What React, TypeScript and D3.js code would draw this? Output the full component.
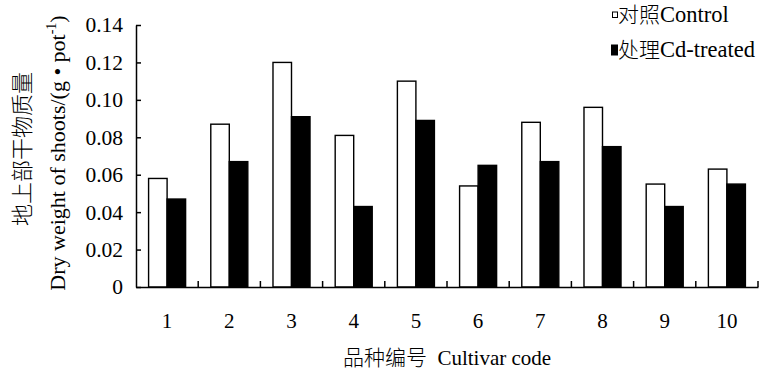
import React, { useEffect, useRef } from 'react'
import { select, scaleBand, scaleLinear, axisLeft, axisBottom } from 'd3'

const categories = ['1', '2', '3', '4', '5', '6', '7', '8', '9', '10']
const controlValues = [0.058, 0.087, 0.120, 0.081, 0.110, 0.054, 0.088, 0.096, 0.055, 0.063]
const treatedValues = [0.047, 0.067, 0.091, 0.043, 0.089, 0.065, 0.067, 0.075, 0.043, 0.055]
const seriesKeys = ['control', 'treated']
const seriesLabelsZh = ['对照', '处理']
const seriesLabelsEn = ['Control', 'Cd-treated']
const seriesFills = ['#ffffff', '#000000']
const yTicks = [0, 0.02, 0.04, 0.06, 0.08, 0.1, 0.12, 0.14]

const FONT = '"Liberation Serif", "Times New Roman", "Noto Sans CJK SC", serif'
const CJK = '"Noto Sans CJK SC", sans-serif'

function App() {
  const svgRef = useRef<SVGSVGElement>(null)

  const width = 773, height = 376
  const margin = { top: 25, right: 15, bottom: 89, left: 136 }
  const plotW = width - margin.left - margin.right
  const plotH = height - margin.top - margin.bottom

  useEffect(() => {
    const root = select(svgRef.current)
    root.selectAll('*').remove()

    const svg = root.append('g')
      .attr('transform', `translate(${margin.left},${margin.top})`)

    const x = scaleBand()
      .domain(categories)
      .range([0, plotW])
      .padding(0)

    const xs = scaleBand()
      .domain(seriesKeys)
      .range([0, x.bandwidth()])
      .paddingInner(0)
      .paddingOuter(0.68)

    const y = scaleLinear()
      .domain([0, 0.14])
      .range([plotH, 0])

    // bars
    const rows = categories.map((c, i) => ({ cat: c, control: controlValues[i], treated: treatedValues[i] }))
    const groups = svg.selectAll('g.grp')
      .data(rows)
      .join('g')
      .attr('class', 'grp')
      .attr('transform', d => `translate(${x(d.cat)},0)`)

    groups.selectAll('rect')
      .data(d => seriesKeys.map((k, j) => ({ key: k, value: (d as any)[k] as number, fill: seriesFills[j] })))
      .join('rect')
      .attr('x', d => xs(d.key)!)
      .attr('y', d => y(d.value))
      .attr('width', xs.bandwidth())
      .attr('height', d => plotH - y(d.value))
      .attr('fill', d => d.fill)
      .attr('stroke', '#000')
      .attr('stroke-width', 1.4)

    // y axis
    const yAxis = svg.append('g')
      .call(axisLeft(y)
        .tickValues(yTicks)
        .tickSizeInner(-5)
        .tickSizeOuter(0)
        .tickPadding(13)
        .tickFormat(d => (+d === 0 ? '0' : (+d).toFixed(2))))
    yAxis.selectAll('path, line').attr('stroke', '#000').attr('stroke-width', 1.5)
    yAxis.selectAll('text')
      .attr('font-family', FONT)
      .attr('font-size', 21.5)
      .attr('fill', '#000')

    // x axis: labels at band centres, ticks at band boundaries
    const xAxis = svg.append('g')
      .attr('transform', `translate(0,${plotH})`)
      .call(axisBottom(x).tickSize(0).tickPadding(26))
    xAxis.select('path').attr('stroke', '#000').attr('stroke-width', 1.5)
    xAxis.selectAll('text')
      .attr('font-family', FONT)
      .attr('font-size', 21)
      .attr('fill', '#000')

    svg.append('g')
      .selectAll('line')
      .data(categories)
      .join('line')
      .attr('x1', d => x(d)! + x.bandwidth())
      .attr('x2', d => x(d)! + x.bandwidth())
      .attr('y1', plotH)
      .attr('y2', plotH - 6)
      .attr('stroke', '#000')
      .attr('stroke-width', 1.5)

    // x title
    const xt = root.append('text')
      .attr('x', margin.left + plotW / 2)
      .attr('y', 365)
      .attr('text-anchor', 'middle')
      .attr('font-family', FONT)
      .attr('font-size', 21)
      .attr('xml:space', 'preserve')
    xt.append('tspan').attr('font-family', CJK).attr('font-weight', 300).text('品种编号')
    xt.append('tspan').text('  Cultivar code')

    // y title, two lines
    root.append('text')
      .attr('transform', 'translate(30,149) rotate(-90)')
      .attr('text-anchor', 'middle')
      .attr('font-family', CJK)
      .attr('font-weight', 300)
      .attr('font-size', 22)
      .text('地上部干物质量')

    const yt = root.append('text')
      .attr('transform', 'translate(65,153) rotate(-90)')
      .attr('text-anchor', 'middle')
      .attr('font-family', FONT)
      .attr('font-size', 22)
    yt.append('tspan').text('Dry weight of shoots/(g • pot')
    yt.append('tspan').attr('font-size', 14).attr('dy', -9).text('-1')
    yt.append('tspan').attr('dy', 9).text(')')

    // legend
    const legend = root.append('g').attr('transform', 'translate(611,0)')
    const legendY = [22, 57]
    const items = legend.selectAll('g')
      .data(seriesLabelsZh)
      .join('g')
      .attr('transform', (d, i) => `translate(0,${legendY[i]})`)
    items.append('rect')
      .attr('x', (d, i) => (i === 0 ? 1.5 : 0.5))
      .attr('y', (d, i) => (i === 0 ? -10 : -12))
      .attr('width', (d, i) => (i === 0 ? 5 : 6))
      .attr('height', (d, i) => (i === 0 ? 5.5 : 10))
      .attr('fill', (d, i) => seriesFills[i])
      .attr('stroke', '#000')
      .attr('stroke-width', 1)
    const lt = items.append('text')
      .attr('x', 7)
      .attr('font-family', FONT)
      .attr('font-size', 22.5)
    lt.append('tspan').attr('font-family', CJK).attr('font-weight', 300).attr('font-size', 21).text(d => d)
    lt.append('tspan').text((d, i) => seriesLabelsEn[i])
  }, [])

  return (
    <svg
      ref={svgRef}
      width={width}
      height={height}
      style={{ position: 'absolute', left: 0, top: 0, background: '#fff' }}
    />
  )
}

export default App
